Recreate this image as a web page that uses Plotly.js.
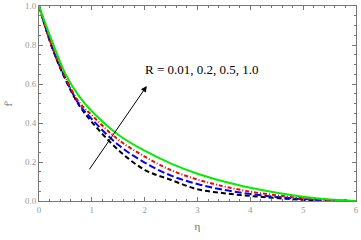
<!DOCTYPE html>
<html><head><meta charset="utf-8">
<script src="https://cdn.plot.ly/plotly-3.0.1.min.js"></script>
<style>html,body{margin:0;padding:0;background:#fff}#c{width:361px;height:240px}</style>
</head><body><div id="c"></div>
<script>
const eta = [0, 0.25, 0.5, 0.75, 1, 1.5, 2, 2.5, 3, 3.5, 4, 4.5, 5, 5.5, 6];
const fBlack = [1, 0.785, 0.623, 0.495, 0.405, 0.262, 0.16, 0.108, 0.06, 0.04, 0.026, 0.015, 0.006, 0.002, 0];
const fBlue  = [1, 0.787, 0.628, 0.50, 0.42, 0.288, 0.197, 0.13, 0.087, 0.057, 0.036, 0.021, 0.01, 0.003, 0];
const fRed   = [1, 0.79, 0.635, 0.51, 0.44, 0.315, 0.228, 0.158, 0.11, 0.075, 0.048, 0.029, 0.014, 0.005, 0];
const fGreen = [1, 0.817, 0.652, 0.54, 0.46, 0.34, 0.258, 0.192, 0.14, 0.10, 0.068, 0.042, 0.022, 0.008, 0];
const xTicks = [0, 1, 2, 3, 4, 5, 6];
const yTicks = [0, 0.2, 0.4, 0.6, 0.8, 1.0];

const mk = (y, color, dash) => ({x: eta, y: y, mode: 'lines', line: {color: color, width: 2, dash: dash, shape: 'spline', smoothing: 1}, showlegend: false, hoverinfo: 'skip'});
const data = [
  mk(fBlack, '#000000', '5px,3px'),
  mk(fBlue, '#0000ff', '7px,3px'),
  mk(fRed, '#ff0000', '4px,2px,1px,2px'),
  mk(fGreen, '#00ee00', 'solid')
];
const axcommon = {showgrid: false, zeroline: false, showline: true, mirror: 'allticks', linecolor: '#777', linewidth: 1,
  ticks: 'inside', ticklen: 4, tickcolor: '#777', tickfont: {family: 'Liberation Serif', size: 9, color: '#999'}};
const layout = {
  width: 361, height: 240, margin: {l: 39, r: 5, t: 6, b: 39},
  paper_bgcolor: '#fff', plot_bgcolor: '#fff',
  xaxis: Object.assign({}, axcommon, {range: [0, 6], tickvals: xTicks, ticktext: xTicks.map(String),
    minor: {dtick: 0.2, ticklen: 2, tickcolor: '#777', ticks: 'inside'},
    title: {text: 'η', font: {family: 'Liberation Serif', size: 11, color: '#666'}, standoff: 8}}),
  yaxis: Object.assign({}, axcommon, {range: [0, 1], tickvals: yTicks, ticktext: yTicks.map(v => v.toFixed(1)),
    minor: {dtick: 0.05, ticklen: 2, tickcolor: '#777', ticks: 'inside'},
    title: {text: 'f′', font: {family: 'Liberation Serif', size: 11, color: '#666'}, standoff: 10}}),
  annotations: [
    {x: 2.04, y: 0.59, ax: 0.935, ay: 0.155, xref: 'x', yref: 'y', axref: 'x', ayref: 'y', showarrow: true,
     arrowhead: 2, arrowsize: 1.2, arrowwidth: 1, arrowcolor: '#000', text: ''},
    {x: 3.09, y: 0.672, xref: 'x', yref: 'y', showarrow: false, text: 'R = 0.01, 0.2, 0.5, 1.0',
     font: {family: 'Liberation Serif', size: 13, color: '#000'}}
  ]
};
Plotly.newPlot('c', data, layout, {staticPlot: true, displayModeBar: false});
</script></body></html>
